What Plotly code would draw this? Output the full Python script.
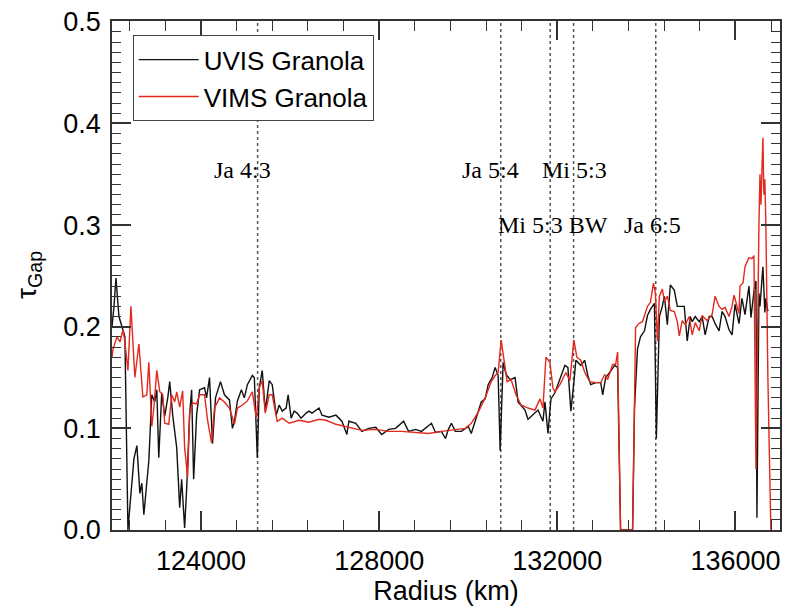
import plotly.graph_objects as go

# ---------------- data ----------------
uvis_radius = [122000, 122045, 122089, 122156, 122224, 122290, 122358, 122425, 122492, 122559,
               122626, 122670, 122715, 122782, 122827, 122894, 122961, 123006, 123050, 123117,
               123184, 123252, 123296, 123363, 123453, 123520, 123564, 123631, 123676, 123743,
               123788, 123833, 123900, 123967, 124078, 124123, 124190, 124257, 124324, 124436,
               124525, 124637, 124704, 124749, 124816, 124906, 124972, 125040, 125151, 125196,
               125263, 125307, 125374, 125442, 125531, 125598, 125688, 125754, 125822, 125910,
               125955, 126023, 126090, 126157, 126246, 126358, 126425, 126492, 126582, 126648,
               126716, 126872, 127029, 127162, 127274, 127319, 127476, 127610, 127766, 127922,
               128056, 128213, 128369, 128548, 128660, 128816, 128950, 129174, 129264, 129397,
               129487, 129554, 129621, 129710, 129844, 130000, 130067, 130157, 130291, 130380,
               130447, 130537, 130604, 130671, 130716, 130783, 130850, 130940, 131051, 131118,
               131274, 131342, 131453, 131566, 131677, 131722, 131790, 131856, 131946, 132058,
               132170, 132237, 132304, 132371, 132416, 132527, 132616, 132684, 132750, 132862,
               132974, 133019, 133086, 133175, 133286, 133354, 133420, 133690, 133733, 133800,
               133867, 133957, 134024, 134090, 134180, 134224, 134292, 134358, 134404, 134470,
               134537, 134626, 134694, 134760, 134850, 134917, 134984, 135029, 135096, 135186,
               135252, 135320, 135410, 135476, 135543, 135632, 135700, 135766, 135856, 135923,
               135990, 136080, 136146, 136214, 136303, 136348, 136415, 136460, 136482, 136527,
               136550, 136616, 136660, 136683, 136728]
uvis_tau = [0.200, 0.220, 0.248, 0.210, 0.200, 0.190, 0.000, 0.040, 0.070, 0.083,
            0.036, 0.046, 0.015, 0.047, 0.068, 0.133, 0.126, 0.138, 0.071, 0.135,
            0.112, 0.130, 0.146, 0.113, 0.081, 0.022, 0.050, 0.002, 0.040, 0.113,
            0.138, 0.050, 0.113, 0.138, 0.140, 0.130, 0.150, 0.085, 0.130, 0.146,
            0.133, 0.128, 0.100, 0.107, 0.127, 0.138, 0.130, 0.143, 0.152, 0.150,
            0.071, 0.140, 0.157, 0.117, 0.147, 0.143, 0.113, 0.123, 0.117, 0.120,
            0.133, 0.110, 0.117, 0.115, 0.110, 0.115, 0.117, 0.115, 0.118, 0.120,
            0.113, 0.111, 0.113, 0.107, 0.094, 0.107, 0.105, 0.097, 0.100, 0.101,
            0.094, 0.099, 0.100, 0.107, 0.097, 0.099, 0.097, 0.105, 0.096, 0.097,
            0.090, 0.099, 0.105, 0.097, 0.097, 0.102, 0.095, 0.107, 0.126, 0.129,
            0.143, 0.150, 0.160, 0.152, 0.078, 0.165, 0.153, 0.148, 0.150, 0.126,
            0.118, 0.109, 0.113, 0.118, 0.107, 0.126, 0.095, 0.129, 0.135, 0.149,
            0.162, 0.160, 0.117, 0.145, 0.167, 0.162, 0.167, 0.152, 0.143, 0.145,
            0.145, 0.133, 0.150, 0.155, 0.162, 0.160, 0.000, 0.000, 0.120, 0.178,
            0.190, 0.196, 0.211, 0.217, 0.223, 0.090, 0.210, 0.220, 0.230, 0.202,
            0.241, 0.236, 0.220, 0.220, 0.220, 0.186, 0.210, 0.205, 0.210, 0.205,
            0.210, 0.192, 0.210, 0.210, 0.203, 0.196, 0.215, 0.210, 0.197, 0.192,
            0.222, 0.203, 0.228, 0.212, 0.240, 0.209, 0.235, 0.245, 0.012, 0.233,
            0.220, 0.259, 0.214, 0.228, 0.215]

vims_radius = [122000, 122022, 122112, 122179, 122246, 122290, 122358, 122425, 122514, 122604,
               122693, 122782, 122827, 122894, 122939, 123006, 123073, 123140, 123184, 123274,
               123341, 123408, 123453, 123520, 123587, 123631, 123698, 123743, 123810, 123900,
               123967, 124078, 124146, 124235, 124302, 124414, 124525, 124637, 124749, 124816,
               124928, 125040, 125151, 125241, 125307, 125374, 125442, 125531, 125598, 125710,
               125822, 125978, 126202, 126425, 126648, 126805, 127029, 127319, 127610, 127922,
               128213, 128504, 128816, 129107, 129397, 129710, 129934, 130067, 130224, 130380,
               130515, 130604, 130671, 130738, 130827, 130872, 130961, 131073, 131185, 131342,
               131498, 131610, 131677, 131744, 131833, 131901, 131946, 132058, 132192, 132282,
               132371, 132438, 132527, 132616, 132728, 132862, 132974, 133064, 133130, 133242,
               133309, 133354, 133420, 133690, 133757, 133823, 133912, 133957, 134024, 134090,
               134158, 134202, 134247, 134292, 134358, 134404, 134470, 134537, 134626, 134694,
               134738, 134806, 134872, 134962, 135029, 135096, 135186, 135252, 135364, 135476,
               135543, 135632, 135700, 135766, 135856, 135923, 135968, 136080, 136102, 136169,
               136214, 136303, 136370, 136415, 136460, 136527, 136550, 136572, 136616, 136638,
               136660, 136683, 136728, 136795]
vims_tau = [0.170, 0.178, 0.190, 0.185, 0.197, 0.185, 0.157, 0.220, 0.150, 0.183,
            0.131, 0.133, 0.165, 0.102, 0.120, 0.157, 0.136, 0.133, 0.105, 0.104,
            0.133, 0.126, 0.136, 0.121, 0.137, 0.081, 0.052, 0.115, 0.125, 0.124,
            0.133, 0.133, 0.108, 0.086, 0.120, 0.130, 0.126, 0.120, 0.104, 0.120,
            0.123, 0.127, 0.136, 0.110, 0.140, 0.147, 0.115, 0.133, 0.133, 0.107,
            0.110, 0.105, 0.108, 0.106, 0.109, 0.108, 0.104, 0.101, 0.098, 0.099,
            0.097, 0.097, 0.096, 0.095, 0.097, 0.099, 0.100, 0.105, 0.116, 0.130,
            0.146, 0.152, 0.155, 0.187, 0.160, 0.146, 0.148, 0.133, 0.123, 0.120,
            0.118, 0.129, 0.120, 0.170, 0.165, 0.140, 0.136, 0.143, 0.155, 0.147,
            0.187, 0.170, 0.167, 0.155, 0.146, 0.145, 0.145, 0.153, 0.148, 0.163,
            0.163, 0.175, 0.000, 0.000, 0.199, 0.203, 0.205, 0.212, 0.220, 0.224,
            0.243, 0.233, 0.186, 0.230, 0.237, 0.225, 0.230, 0.216, 0.215, 0.205,
            0.191, 0.206, 0.202, 0.210, 0.192, 0.204, 0.196, 0.211, 0.206, 0.212,
            0.230, 0.220, 0.217, 0.219, 0.210, 0.220, 0.231, 0.213, 0.240, 0.243,
            0.259, 0.268, 0.267, 0.270, 0.060, 0.300, 0.350, 0.320, 0.386, 0.330,
            0.345, 0.300, 0.150, 0.000]

resonance_radius = [125270, 130730, 131840, 132365, 134210]
label_text = ["Ja 4:3", "Ja 5:4", "Mi 5:3", "Mi 5:3 BW", "Ja 6:5"]
label_x = [124928, 130493, 132393, 131901, 134136]
label_y = [0.354, 0.354, 0.354, 0.300, 0.300]

x_range = [122000, 137000]
y_range = [0, 0.5]
x_major = [124000, 128000, 132000, 136000]
y_major = [0.0, 0.1, 0.2, 0.3, 0.4, 0.5]

SANS = "Liberation Sans, Arial, sans-serif"
SERIF = "Liberation Serif, Times New Roman, serif"
AXC = "#333333"

fig = go.Figure()
fig.add_trace(go.Scatter(x=uvis_radius, y=uvis_tau, mode="lines", name="UVIS Granola",
                         line=dict(color="#111111", width=1.4)))
fig.add_trace(go.Scatter(x=vims_radius, y=vims_tau, mode="lines", name="VIMS Granola",
                         line=dict(color="#e3281c", width=1.4)))

for r in resonance_radius:
    fig.add_shape(type="line", xref="x", yref="y", x0=r, x1=r, y0=y_range[0], y1=y_range[1],
                  line=dict(color="#555555", width=1.5, dash="dot"), layer="below")

for t, x, y in zip(label_text, label_x, label_y):
    fig.add_annotation(x=x, y=y, xref="x", yref="y", text=t, showarrow=False,
                       font=dict(family=SERIF, size=24, color="black"),
                       xanchor="center", yanchor="middle")

fig.add_annotation(x=-0.125, y=0.5, xref="paper", yref="paper",
                   text="τ<sub>Gap</sub>", showarrow=False, textangle=-90,
                   font=dict(family=SANS, size=28, color="black"),
                   xanchor="center", yanchor="middle")

axis_common = dict(showline=True, linecolor=AXC, linewidth=1.5, mirror="ticks",
                   ticks="inside", ticklen=19, tickwidth=1.6, tickcolor=AXC,
                   showgrid=False, zeroline=False,
                   tickfont=dict(family=SANS, size=27, color="black"))

fig.update_layout(
    xaxis=dict(range=x_range, tickmode="array", tickvals=x_major,
               ticktext=[str(v) for v in x_major],
               minor=dict(ticks="inside", ticklen=10, tickwidth=1.3, tickcolor=AXC,
                          dtick=800, tick0=124000, showgrid=False),
               title=dict(text="Radius (km)", font=dict(family=SANS, size=27, color="black"),
                          standoff=4),
               ticklabelstandoff=6, **axis_common),
    yaxis=dict(range=[y_range[0], y_range[1] + 0.0008], tickmode="array", tickvals=y_major,
               ticktext=["%.1f" % v for v in y_major],
               minor=dict(ticks="inside", ticklen=9, tickwidth=1.3, tickcolor=AXC,
                          dtick=0.01, tick0=0, showgrid=False),
               ticklabelstandoff=4, **axis_common),
    width=789, height=608,
    margin=dict(l=112, r=7, t=14, b=78),
    paper_bgcolor="white", plot_bgcolor="white",
    showlegend=True,
    legend=dict(x=0.031, y=0.972, xanchor="left", yanchor="top",
                bgcolor="white", bordercolor="#444444", borderwidth=1,
                font=dict(family=SANS, size=26, color="black"),
                itemwidth=60, tracegroupgap=0),
)

fig.write_html("out.html")
